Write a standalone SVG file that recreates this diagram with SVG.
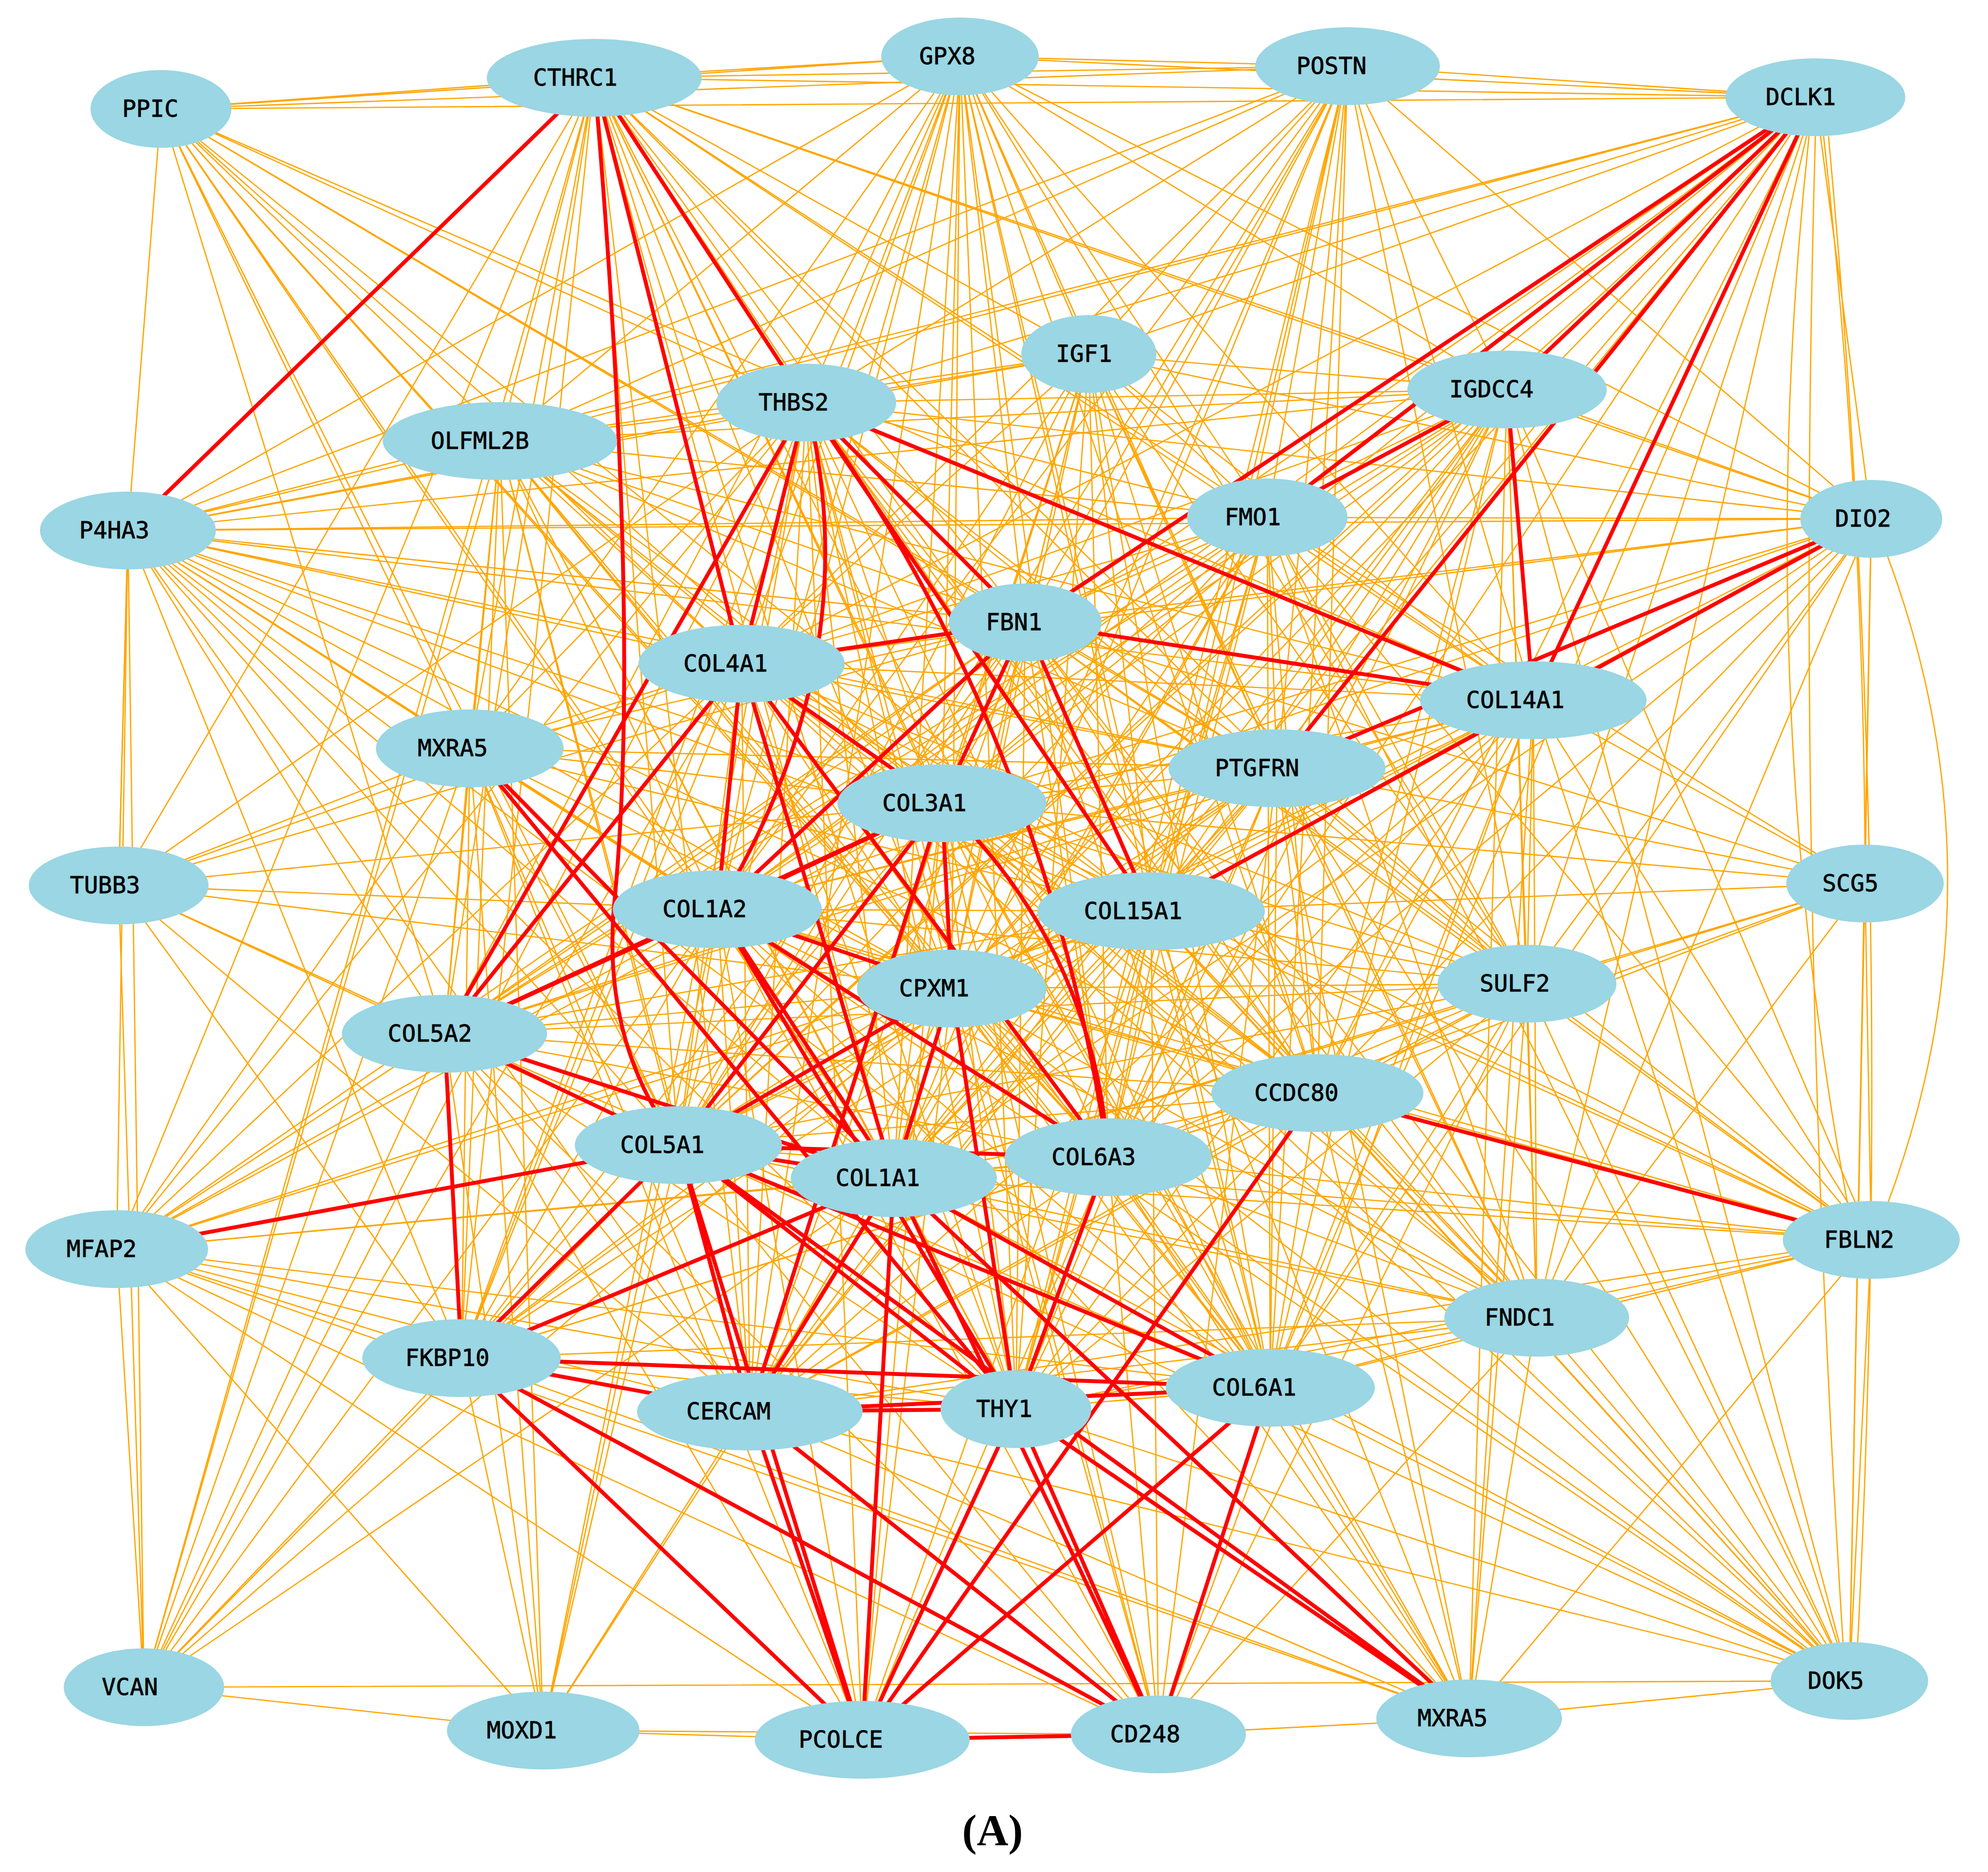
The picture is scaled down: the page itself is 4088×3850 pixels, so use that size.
<svg xmlns="http://www.w3.org/2000/svg" width="4088" height="3850" viewBox="0 0 4088 3850">
<style>
.o{stroke:#FFA500;stroke-width:2.6;fill:none}
.r{stroke:#FF0000;stroke-width:8;fill:none}
.n ellipse{fill:#9AD6E3}
.n text{font-family:"DejaVu Sans Mono","Liberation Mono",monospace;font-size:48px;font-weight:normal;fill:#000;text-anchor:middle;stroke:#000;stroke-width:0.8}
.cap{font-family:"Liberation Serif",serif;font-size:90px;font-weight:bold;fill:#000;text-anchor:middle}
</style>
<rect width="4088" height="3850" fill="#FFFFFF"/>
<g id="connectors">
<g id="orange-edges">
<path class="o" d="M331 224L1222 160M331 224L1974 116M331 224L2771 136M331 224L3733 200M331 224L263 1091M331 224L1658 828M331 224L1525 1365M331 224L1937 1652M331 224L1475 1870M331 224L2108 1280M331 224L1395 2355M331 224L1838 2423M331 224L1957 2033M331 224L914 2126M331 224L3153 1440M331 224L2367 1874M331 224L2279 2380M331 224L966 1539M331 224L2626 1580"/>
<path class="o" d="M1222 160L1974 116M1222 160L2771 136M1222 160L3733 200M1222 160L263 1091M1222 160L2239 728M1222 160L3099 801M1222 160L2606 1064M1222 160L1028 907M1222 160L2108 1280M1222 160L1937 1652M1222 160L2367 1874M1222 160L1957 2033M1222 160L914 2126M1222 160L1395 2355M1222 160L2279 2380M1222 160L1838 2423M1222 160L949 2793M1222 160L1542 2903M1222 160L2089 2898M1222 160L2626 1580M1222 160L3153 1440M1222 160L3848 1067M1222 160L966 1539M1222 160L244 1821M1222 160L240 2569M1222 160L296 3470M1222 160L2612 2854M1222 160L2709 2248M1222 160L3140 2023"/>
<path class="o" d="M1974 116L2771 136M1974 116L3733 200M1974 116L263 1091M1974 116L1658 828M1974 116L2239 728M1974 116L3099 801M1974 116L2606 1064M1974 116L2108 1280M1974 116L1525 1365M1974 116L1937 1652M1974 116L1475 1870M1974 116L2367 1874M1974 116L1957 2033M1974 116L1838 2423M1974 116L2279 2380M1974 116L1395 2355M1974 116L914 2126M1974 116L1542 2903M1974 116L2089 2898M1974 116L2626 1580M1974 116L3153 1440M1974 116L1028 907M1974 116L2612 2854M1974 116L2709 2248M1974 116L3848 1067M1974 116L966 1539M1974 116L949 2793M1974 116L3140 2023"/>
<path class="o" d="M2771 136L3733 200M2771 136L2239 728M2771 136L2606 1064M2771 136L2108 1280M2771 136L3153 1440M2771 136L2626 1580M2771 136L1937 1652M2771 136L1475 1870M2771 136L1525 1365M2771 136L2367 1874M2771 136L2279 2380M2771 136L1838 2423M2771 136L1658 828M2771 136L263 1091M2771 136L3099 801M2771 136L3848 1067M2771 136L3140 2023M2771 136L1957 2033M2771 136L1395 2355M2771 136L2709 2248M2771 136L2612 2854M2771 136L2089 2898M2771 136L1028 907"/>
<path class="o" d="M3733 200L3848 1067M3733 200L2239 728M3733 200L1658 828M3733 200L1525 1365M3733 200L1937 1652M3733 200L2367 1874M3733 200L1957 2033M3733 200L1838 2423M3733 200L3140 2023M3733 200L2709 2248M3733 200L3160 2710M3733 200L2612 2854M3733 200L2279 2380M3733 200L1475 1870M3733 200L1395 2355M3733 200L914 2126M3733 200L1028 907M3733 200L263 1091M3733 280Q3690 1800 3790 3380M3760 280Q3900 1800 3820 3380M3720 280Q3600 1400 3800 2480M3750 280Q3830 1000 3835 1740M3880 1140Q4130 1810 3880 2480M3835 1817L3848 1067"/>
<path class="o" d="M2239 728L3099 801M2239 728L1658 828M2239 728L2606 1064M2239 728L2108 1280M2239 728L1525 1365M2239 728L1937 1652M2239 728L1475 1870M2239 728L2367 1874M2239 728L1957 2033M2239 728L2279 2380M2239 728L1838 2423M2239 728L2626 1580M2239 728L3153 1440M2239 728L2612 2854M2239 728L2709 2248M2239 728L2089 2898M2239 728L1542 2903M2239 728L1395 2355M2239 728L3848 1067M2239 728L1028 907M2239 728L263 1091M2239 728L3140 2023M2239 728L3160 2710"/>
<path class="o" d="M3099 801L1658 828M3099 801L2108 1280M3099 801L1525 1365M3099 801L1937 1652M3099 801L1475 1870M3099 801L2367 1874M3099 801L1957 2033M3099 801L2626 1580M3099 801L3140 2023M3099 801L2709 2248M3099 801L2279 2380M3099 801L1838 2423M3099 801L2612 2854M3099 801L3160 2710M3099 801L3848 2550M3099 801L3848 1067M3099 801L1028 907M3099 801L263 1091M3099 801L1395 2355M3099 801L914 2126M3099 801L1542 2903M3099 801L2089 2898M3099 801L3803 3457M3099 801L3021 3534"/>
<path class="o" d="M1658 828L1028 907M1658 828L263 1091M1658 828L2606 1064M1658 828L1937 1652M1658 828L1957 2033M1658 828L2626 1580M1658 828L3140 2023M1658 828L2709 2248M1658 828L1395 2355M1658 828L1838 2423M1658 828L2612 2854M1658 828L1542 2903M1658 828L2089 2898M1658 828L949 2793M1658 828L966 1539M1658 828L3848 1067M1658 828L244 1821M1658 828L240 2569M1658 828L296 3470M1658 828L1117 3559M1658 828L1773 3578M1658 828L2382 3567M1658 828L3160 2710"/>
<path class="o" d="M1028 907L263 1091M1028 907L2606 1064M1028 907L2108 1280M1028 907L1525 1365M1028 907L1937 1652M1028 907L1475 1870M1028 907L2367 1874M1028 907L1957 2033M1028 907L914 2126M1028 907L1395 2355M1028 907L2279 2380M1028 907L1838 2423M1028 907L949 2793M1028 907L1542 2903M1028 907L2089 2898M1028 907L2626 1580M1028 907L3153 1440M1028 907L966 1539M1028 907L1117 3559M1028 907L296 3470M1028 907L2709 2248M1028 907L2612 2854"/>
<path class="o" d="M263 1091L2606 1064M263 1091L3848 1067M263 1091L2108 1280M263 1091L1525 1365M263 1091L1937 1652M263 1091L1475 1870M263 1091L2367 1874M263 1091L1957 2033M263 1091L914 2126M263 1091L1395 2355M263 1091L1838 2423M263 1091L2279 2380M263 1091L949 2793M263 1091L1542 2903M263 1091L2089 2898M263 1091L966 1539M263 1091L244 1821M263 1091L296 3470M263 1091L240 2569M263 1091L3153 1440M263 1091L2626 1580M263 1091L2612 2854M263 1091L2709 2248"/>
<path class="o" d="M2606 1064L2108 1280M2606 1064L1525 1365M2606 1064L1937 1652M2606 1064L1475 1870M2606 1064L2367 1874M2606 1064L1957 2033M2606 1064L2626 1580M2606 1064L3153 1440M2606 1064L3140 2023M2606 1064L2709 2248M2606 1064L2279 2380M2606 1064L1838 2423M2606 1064L2612 2854M2606 1064L3160 2710M2606 1064L3848 1067M2606 1064L1395 2355M2606 1064L914 2126M2606 1064L1542 2903M2606 1064L2089 2898M2606 1064L3803 3457M2606 1064L3848 2550M2606 1064L3835 1817"/>
<path class="o" d="M3848 1067L2108 1280M3848 1067L3153 1440M3848 1067L1937 1652M3848 1067L3140 2023M3848 1067L2709 2248M3848 1067L2279 2380M3848 1067L3160 2710M3848 1067L2612 2854M3848 1067L1838 2423M3848 1067L1957 2033M3848 1067L1475 1870M3848 1067L1525 1365M3848 1067L3803 3457M3848 1067L2367 1874"/>
<path class="o" d="M2108 1280L2626 1580M2108 1280L1957 2033M2108 1280L3140 2023M2108 1280L2709 2248M2108 1280L1395 2355M2108 1280L914 2126M2108 1280L2279 2380M2108 1280L1838 2423M2108 1280L2612 2854M2108 1280L1542 2903M2108 1280L2089 2898M2108 1280L949 2793M2108 1280L966 1539M2108 1280L3160 2710M2108 1280L3848 2550M2108 1280L3803 3457M2108 1280L3835 1817M2108 1280L244 1821M2108 1280L240 2569"/>
<path class="o" d="M1525 1365L3153 1440M1525 1365L2626 1580M1525 1365L2367 1874M1525 1365L1957 2033M1525 1365L3140 2023M1525 1365L2709 2248M1525 1365L1395 2355M1525 1365L2612 2854M1525 1365L1542 2903M1525 1365L2089 2898M1525 1365L949 2793M1525 1365L966 1539M1525 1365L244 1821M1525 1365L240 2569M1525 1365L296 3470M1525 1365L3160 2710M1525 1365L3848 2550M1525 1365L3803 3457"/>
<path class="o" d="M3153 1440L2626 1580M3153 1440L1937 1652M3153 1440L1475 1870M3153 1440L2367 1874M3153 1440L1957 2033M3153 1440L3140 2023M3153 1440L2709 2248M3153 1440L1395 2355M3153 1440L2279 2380M3153 1440L1838 2423M3153 1440L2612 2854M3153 1440L1542 2903M3153 1440L2089 2898M3153 1440L3160 2710M3153 1440L3848 2550M3153 1440L3803 3457M3153 1440L3835 1817M3153 1440L3021 3534M3153 1440L2382 3567M3153 1440L914 2126"/>
<path class="o" d="M966 1539L1937 1652M966 1539L1475 1870M966 1539L1957 2033M966 1539L914 2126M966 1539L1395 2355M966 1539L2279 2380M966 1539L949 2793M966 1539L1542 2903M966 1539L244 1821M966 1539L240 2569M966 1539L1117 3559M966 1539L296 3470M966 1539L1773 3578M966 1539L2367 1874M966 1539L2626 1580"/>
<path class="o" d="M2626 1580L1937 1652M2626 1580L1475 1870M2626 1580L2367 1874M2626 1580L1957 2033M2626 1580L3140 2023M2626 1580L2709 2248M2626 1580L1395 2355M2626 1580L914 2126M2626 1580L2279 2380M2626 1580L1838 2423M2626 1580L2612 2854M2626 1580L1542 2903M2626 1580L2089 2898M2626 1580L3160 2710M2626 1580L3848 2550M2626 1580L3803 3457M2626 1580L3835 1817M2626 1580L3021 3534M2626 1580L2382 3567M2626 1580L949 2793"/>
<path class="o" d="M1937 1652L2367 1874M1937 1652L3140 2023M1937 1652L2709 2248M1937 1652L914 2126M1937 1652L1838 2423M1937 1652L2612 2854M1937 1652L2089 2898M1937 1652L949 2793M1937 1652L3160 2710M1937 1652L3848 2550M1937 1652L3803 3457M1937 1652L244 1821M1937 1652L240 2569M1937 1652L1773 3578M1937 1652L2382 3567M1937 1652L3021 3534"/>
<path class="o" d="M244 1821L1475 1870M244 1821L914 2126M244 1821L1395 2355M244 1821L1957 2033M244 1821L949 2793M244 1821L1542 2903M244 1821L296 3470M244 1821L263 1091"/>
<path class="o" d="M3835 1817L2367 1874M3835 1817L2279 2380M3835 1817L3140 2023M3835 1817L2709 2248M3835 1817L1838 2423M3835 1817L3848 2550M3835 1817L3803 3457M3835 1817L3160 2710M3835 1817L1937 1652"/>
<path class="o" d="M1475 1870L2367 1874M1475 1870L1957 2033M1475 1870L3140 2023M1475 1870L2709 2248M1475 1870L2612 2854M1475 1870L1542 2903M1475 1870L949 2793M1475 1870L3160 2710M1475 1870L3848 2550M1475 1870L3803 3457M1475 1870L240 2569M1475 1870L296 3470M1475 1870L1117 3559M1475 1870L1773 3578M1475 1870L2382 3567M1475 1870L3021 3534"/>
<path class="o" d="M2367 1874L1957 2033M2367 1874L3140 2023M2367 1874L2709 2248M2367 1874L1395 2355M2367 1874L914 2126M2367 1874L2279 2380M2367 1874L1838 2423M2367 1874L2612 2854M2367 1874L1542 2903M2367 1874L2089 2898M2367 1874L949 2793M2367 1874L3160 2710M2367 1874L3848 2550M2367 1874L3803 3457M2367 1874L240 2569M2367 1874L1773 3578M2367 1874L2382 3567M2367 1874L3021 3534"/>
<path class="o" d="M1957 2033L3140 2023M1957 2033L2709 2248M1957 2033L914 2126M1957 2033L2279 2380M1957 2033L2612 2854M1957 2033L1542 2903M1957 2033L949 2793M1957 2033L3160 2710M1957 2033L3848 2550M1957 2033L3803 3457M1957 2033L240 2569M1957 2033L1773 3578M1957 2033L2382 3567M1957 2033L3021 3534M1957 2033L296 3470"/>
<path class="o" d="M3140 2023L2709 2248M3140 2023L1395 2355M3140 2023L2279 2380M3140 2023L1838 2423M3140 2023L2612 2854M3140 2023L1542 2903M3140 2023L2089 2898M3140 2023L3160 2710M3140 2023L3848 2550M3140 2023L3803 3457M3140 2023L3021 3534M3140 2023L2382 3567M3140 2023L914 2126"/>
<path class="o" d="M914 2126L2709 2248M914 2126L2279 2380M914 2126L2612 2854M914 2126L1542 2903M914 2126L2089 2898M914 2126L240 2569M914 2126L296 3470M914 2126L1117 3559M914 2126L1773 3578M914 2126L2382 3567"/>
<path class="o" d="M2709 2248L1395 2355M2709 2248L2279 2380M2709 2248L1838 2423M2709 2248L2612 2854M2709 2248L1542 2903M2709 2248L2089 2898M2709 2248L949 2793M2709 2248L3160 2710M2709 2248L3803 3457M2709 2248L3021 3534"/>
<path class="o" d="M1395 2355L3160 2710M1395 2355L3848 2550M1395 2355L3803 3457M1395 2355L296 3470M1395 2355L1117 3559M1395 2355L2382 3567"/>
<path class="o" d="M2279 2380L1838 2423M2279 2380L2612 2854M2279 2380L1542 2903M2279 2380L949 2793M2279 2380L3160 2710M2279 2380L3848 2550M2279 2380L3803 3457M2279 2380L240 2569M2279 2380L1773 3578M2279 2380L2382 3567M2279 2380L3021 3534"/>
<path class="o" d="M1838 2423L2089 2898M1838 2423L3160 2710M1838 2423L3848 2550M1838 2423L3803 3457M1838 2423L240 2569M1838 2423L296 3470M1838 2423L1117 3559"/>
<path class="o" d="M240 2569L949 2793M240 2569L1542 2903M240 2569L2089 2898M240 2569L2612 2854M240 2569L1773 3578M240 2569L2382 3567M240 2569L3021 3534M240 2569L296 3470M240 2569L1117 3559"/>
<path class="o" d="M3848 2550L3160 2710M3848 2550L2612 2854M3848 2550L1542 2903M3848 2550L2089 2898M3848 2550L3803 3457M3848 2550L3021 3534"/>
<path class="o" d="M3160 2710L2612 2854M3160 2710L1542 2903M3160 2710L2089 2898M3160 2710L3803 3457M3160 2710L3021 3534M3160 2710L2382 3567M3160 2710L949 2793"/>
<path class="o" d="M949 2793L2089 2898M949 2793L296 3470M949 2793L1117 3559M949 2793L3021 3534M2612 2854L2089 2898M2612 2854L3803 3457M2612 2854L3021 3534M1542 2903L1117 3559M1542 2903L3021 3534M1542 2903L3803 3457M2089 2898L3803 3457M2089 2898L3021 3534M296 3470L3803 3457M296 3470L1117 3559M3803 3457L3021 3534M1117 3559L1773 3578M1117 3559L2382 3567M2382 3567L3021 3534"/>
</g>
<g id="red-edges">
<path class="r" d="M1222 160L263 1091M1222 160L1658 828M1222 160L1525 1365M1222 160Q1320 1300 1262 1870M1262 1870Q1240 2150 1395 2355"/>
<path class="r" d="M3733 200L2108 1280M3733 200L2606 1064M3733 200L3099 801M3733 200L2626 1580M3733 200L3153 1440M3099 801L2606 1064M3099 801L3153 1440M3848 1067L2626 1580M3848 1067L2367 1874"/>
<path class="r" d="M1658 828L1525 1365M1658 828L914 2126M1658 828Q1790 1350 1475 1870M1658 828L2108 1280M1658 828L2367 1874M1658 828L3153 1440M1658 828Q2150 1500 2279 2380"/>
<path class="r" d="M2108 1280L1525 1365M2108 1280L3153 1440M2108 1280L1937 1652M2108 1280L1475 1870M2108 1280L2367 1874M1525 1365L914 2126M1525 1365L1475 1870M1525 1365L1937 1652M1525 1365L1838 2423M1525 1365L2279 2380"/>
<path class="r" d="M1937 1652L1475 1870M1937 1652L914 2126M1937 1652L1957 2033M1937 1652L1395 2355M1937 1652Q2250 1950 2279 2380M1937 1652L1542 2903M1957 2033L1838 2423M1957 2033L1395 2355M1957 2033L2089 2898M1957 2033L1475 1870"/>
<path class="r" d="M1475 1870L914 2126M1475 1870L1838 2423M1475 1870L2279 2380M1475 1870L2089 2898M914 2126L1395 2355M914 2126L949 2793M914 2126L1838 2423"/>
<path class="r" d="M1395 2355L240 2569M1395 2355L949 2793M1395 2355L1542 2903M1395 2355L2089 2898M1395 2355L1773 3578M1395 2355L3021 3534M1395 2355L1838 2423M1395 2355L2279 2380M1395 2355L2612 2854"/>
<path class="r" d="M949 2793L2612 2854M949 2793L1542 2903M949 2793L1773 3578M949 2793L2382 3567M949 2793L1838 2423M1542 2903L1773 3578M1542 2903L2382 3567M1542 2903L2089 2898M1542 2903L2612 2854M1542 2903L1838 2423"/>
<path class="r" d="M2089 2898L1773 3578M2089 2898L2382 3567M2089 2898L3021 3534M2089 2898L2279 2380M2612 2854L1773 3578M2612 2854L2382 3567M2612 2854L1838 2423M2709 2248L3848 2550M2709 2248L1773 3578M1773 3578L2382 3567M1838 2423L1773 3578M1838 2423L2382 3567M1838 2423L3021 3534M966 1539L1838 2423M966 1539L2089 2898"/>
</g>
</g>
<g id="nodes">
<g id="n-PPIC" class="n"><ellipse cx="331" cy="224" rx="145" ry="80"/><text x="309" y="240">PPIC</text></g>
<g id="n-CTHRC1" class="n"><ellipse cx="1222" cy="160" rx="221" ry="80"/><text x="1183" y="176">CTHRC1</text></g>
<g id="n-GPX8" class="n"><ellipse cx="1974" cy="116" rx="162" ry="80"/><text x="1948" y="132">GPX8</text></g>
<g id="n-POSTN" class="n"><ellipse cx="2771" cy="136" rx="190" ry="80"/><text x="2738" y="152">POSTN</text></g>
<g id="n-DCLK1" class="n"><ellipse cx="3733" cy="200" rx="185" ry="80"/><text x="3703" y="216">DCLK1</text></g>
<g id="n-IGF1" class="n"><ellipse cx="2239" cy="728" rx="139" ry="80"/><text x="2229" y="744">IGF1</text></g>
<g id="n-IGDCC4" class="n"><ellipse cx="3099" cy="801" rx="205" ry="80"/><text x="3067" y="817">IGDCC4</text></g>
<g id="n-THBS2" class="n"><ellipse cx="1658" cy="828" rx="185" ry="80"/><text x="1632" y="844">THBS2</text></g>
<g id="n-OLFML2B" class="n"><ellipse cx="1028" cy="907" rx="241" ry="80"/><text x="987" y="923">OLFML2B</text></g>
<g id="n-P4HA3" class="n"><ellipse cx="263" cy="1091" rx="181" ry="80"/><text x="235" y="1107">P4HA3</text></g>
<g id="n-FMO1" class="n"><ellipse cx="2606" cy="1064" rx="165" ry="80"/><text x="2576" y="1080">FMO1</text></g>
<g id="n-DIO2" class="n"><ellipse cx="3848" cy="1067" rx="146" ry="80"/><text x="3831" y="1083">DIO2</text></g>
<g id="n-FBN1" class="n"><ellipse cx="2108" cy="1280" rx="157" ry="80"/><text x="2085" y="1296">FBN1</text></g>
<g id="n-COL4A1" class="n"><ellipse cx="1525" cy="1365" rx="212" ry="80"/><text x="1492" y="1381">COL4A1</text></g>
<g id="n-COL14A1" class="n"><ellipse cx="3153" cy="1440" rx="233" ry="80"/><text x="3116" y="1456">COL14A1</text></g>
<g id="n-MXRA5-a" class="n"><ellipse cx="966" cy="1539" rx="193" ry="80"/><text x="931" y="1555">MXRA5</text></g>
<g id="n-PTGFRN" class="n"><ellipse cx="2626" cy="1580" rx="223" ry="80"/><text x="2585" y="1596">PTGFRN</text></g>
<g id="n-COL3A1" class="n"><ellipse cx="1937" cy="1652" rx="215" ry="80"/><text x="1901" y="1668">COL3A1</text></g>
<g id="n-TUBB3" class="n"><ellipse cx="244" cy="1821" rx="185" ry="80"/><text x="216" y="1837">TUBB3</text></g>
<g id="n-SCG5" class="n"><ellipse cx="3835" cy="1817" rx="162" ry="80"/><text x="3805" y="1833">SCG5</text></g>
<g id="n-COL1A2" class="n"><ellipse cx="1475" cy="1870" rx="215" ry="80"/><text x="1449" y="1886">COL1A2</text></g>
<g id="n-COL15A1" class="n"><ellipse cx="2367" cy="1874" rx="234" ry="80"/><text x="2330" y="1890">COL15A1</text></g>
<g id="n-CPXM1" class="n"><ellipse cx="1957" cy="2033" rx="195" ry="80"/><text x="1921" y="2049">CPXM1</text></g>
<g id="n-SULF2" class="n"><ellipse cx="3140" cy="2023" rx="184" ry="80"/><text x="3115" y="2039">SULF2</text></g>
<g id="n-COL5A2" class="n"><ellipse cx="914" cy="2126" rx="211" ry="80"/><text x="884" y="2142">COL5A2</text></g>
<g id="n-CCDC80" class="n"><ellipse cx="2709" cy="2248" rx="218" ry="80"/><text x="2666" y="2264">CCDC80</text></g>
<g id="n-COL5A1" class="n"><ellipse cx="1395" cy="2355" rx="213" ry="80"/><text x="1362" y="2371">COL5A1</text></g>
<g id="n-COL6A3" class="n"><ellipse cx="2279" cy="2380" rx="213" ry="80"/><text x="2249" y="2396">COL6A3</text></g>
<g id="n-COL1A1" class="n"><ellipse cx="1838" cy="2423" rx="212" ry="80"/><text x="1805" y="2439">COL1A1</text></g>
<g id="n-MFAP2" class="n"><ellipse cx="240" cy="2569" rx="188" ry="80"/><text x="209" y="2585">MFAP2</text></g>
<g id="n-FBLN2" class="n"><ellipse cx="3848" cy="2550" rx="182" ry="80"/><text x="3823" y="2566">FBLN2</text></g>
<g id="n-FNDC1" class="n"><ellipse cx="3160" cy="2710" rx="190" ry="80"/><text x="3125" y="2726">FNDC1</text></g>
<g id="n-FKBP10" class="n"><ellipse cx="949" cy="2793" rx="204" ry="80"/><text x="920" y="2809">FKBP10</text></g>
<g id="n-COL6A1" class="n"><ellipse cx="2612" cy="2854" rx="215" ry="80"/><text x="2579" y="2870">COL6A1</text></g>
<g id="n-CERCAM" class="n"><ellipse cx="1542" cy="2903" rx="232" ry="80"/><text x="1498" y="2919">CERCAM</text></g>
<g id="n-THY1" class="n"><ellipse cx="2089" cy="2898" rx="155" ry="80"/><text x="2065" y="2914">THY1</text></g>
<g id="n-VCAN" class="n"><ellipse cx="296" cy="3470" rx="165" ry="80"/><text x="267" y="3486">VCAN</text></g>
<g id="n-DOK5" class="n"><ellipse cx="3803" cy="3457" rx="162" ry="80"/><text x="3775" y="3473">DOK5</text></g>
<g id="n-MOXD1" class="n"><ellipse cx="1117" cy="3559" rx="198" ry="80"/><text x="1073" y="3575">MOXD1</text></g>
<g id="n-PCOLCE" class="n"><ellipse cx="1773" cy="3578" rx="221" ry="80"/><text x="1729" y="3594">PCOLCE</text></g>
<g id="n-CD248" class="n"><ellipse cx="2382" cy="3567" rx="180" ry="80"/><text x="2355" y="3583">CD248</text></g>
<g id="n-MXRA5-b" class="n"><ellipse cx="3021" cy="3534" rx="191" ry="80"/><text x="2987" y="3550">MXRA5</text></g>
</g>
<text class="cap" x="2041" y="3795">(A)</text>
</svg>
